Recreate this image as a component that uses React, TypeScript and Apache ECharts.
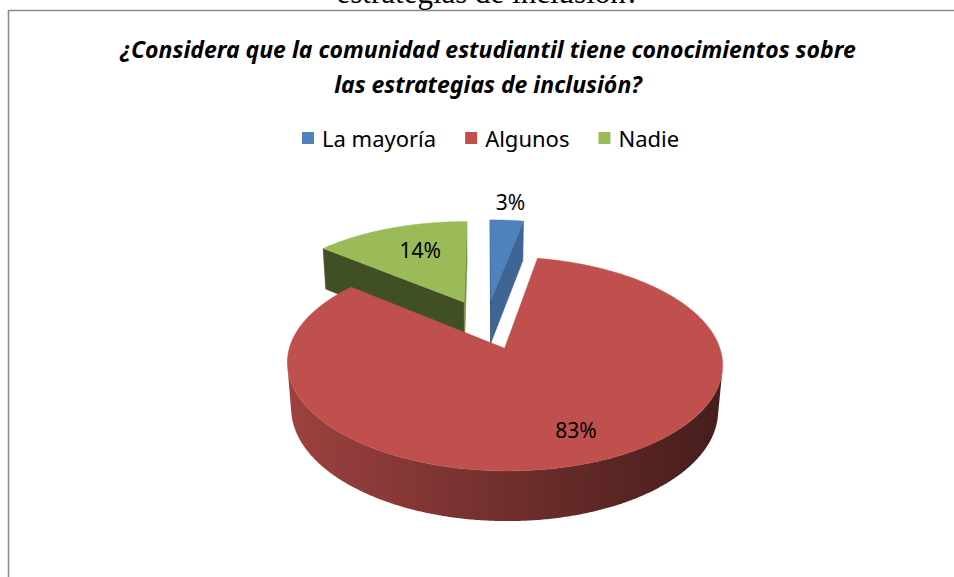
import React, { useEffect, useRef } from 'react';
import * as echarts from 'echarts';

// ---- data ----
const categories = ['La mayoría', 'Algunos', 'Nadie'];
const values = [3, 83, 14];
const colors = ['#4f81bd', '#c0504d', '#9bbb59'];
const titleLines = [
  '¿Considera que la comunidad estudiantil tiene conocimientos sobre',
  'las estrategias de inclusión?',
];
const captionText = 'estrategias de inclusión?';

// ---- 3D view (style) ----
const VIEW = { ox: 486, oy: 324, R: 208, explode: 53, sinT: 0.47, cosT: 0.8827, f: 1300, H: 51 };
const FONT = '"Noto Sans", "Open Sans", sans-serif';

function proj(X: number, Y: number, Z: number): number[] {
  const { ox, oy, sinT, cosT, f } = VIEW;
  const d = Z * cosT - Y * sinT;
  const s = f / (f + d);
  const yc = Y * cosT + Z * sinT;
  return [ox + X * s, oy - yc * s];
}

function shade(hex: string, k: number): string {
  const n = parseInt(hex.slice(1), 16);
  const r = Math.round(((n >> 16) & 255) * k);
  const g = Math.round(((n >> 8) & 255) * k);
  const b = Math.round((n & 255) * k);
  return `rgb(${r},${g},${b})`;
}

function area(p: number[][]): number {
  let a = 0;
  for (let i = 0; i < p.length; i++) {
    const q = p[(i + 1) % p.length];
    a += p[i][0] * q[1] - q[0] * p[i][1];
  }
  return a;
}

function sliceAngles() {
  const total = values.reduce((a, b) => a + b, 0);
  let acc = 0;
  return values.map((v) => {
    const a0 = (acc / total) * Math.PI * 2;
    acc += v;
    const a1 = (acc / total) * Math.PI * 2;
    return { a0, a1, am: (a0 + a1) / 2, share: v / total };
  });
}

export default function App() {
  const ref = useRef<HTMLDivElement>(null);

  useEffect(() => {
    if (!ref.current) return;
    const chart = echarts.init(ref.current, undefined, { renderer: 'svg' });
    const slices = sliceAngles();

    const renderItem = (params: any, api: any) => {
      const i = params.dataIndex;
      const v = api.value(0);
      const total = values.reduce((a, b) => a + b, 0);
      const sl = slices[i];
      const { R, explode, H, ox } = VIEW;
      const ex = explode * Math.sin(sl.am);
      const ez = explode * Math.cos(sl.am);
      const pt = (th: number, r: number, Y: number) =>
        proj(ex + r * Math.sin(th), Y, ez + r * Math.cos(th));
      const order = slices
        .map((s, j) => ({ j, z: Math.cos(s.am) }))
        .sort((a, b) => b.z - a.z)
        .findIndex((o) => o.j === i);
      const base = order * 100;
      const color = colors[i];
      const children: any[] = [];
      const n = Math.max(2, Math.ceil((sl.a1 - sl.a0) / (Math.PI / 360)));
      const arc: number[] = [];
      for (let k = 0; k <= n; k++) arc.push(sl.a0 + ((sl.a1 - sl.a0) * k) / n);

      const addQuad = (p: number[][], fill: string, z: number) => {
        if (area(p) < 0) {
          children.push({
            type: 'polygon',
            shape: { points: p },
            style: { fill, stroke: fill, lineWidth: 0.6 },
            z2: z,
          });
        }
      };
      // radial walls
      addQuad([pt(0, 0, 0), pt(sl.a0, R, 0), pt(sl.a0, R, -H), pt(0, 0, -H)], shade(color, 0.42), base + 1);
      addQuad([pt(sl.a1, R, 0), pt(0, 0, 0), pt(0, 0, -H), pt(sl.a1, R, -H)], shade(color, 0.78), base + 1);

      // outer wall: merge visible segments into runs, fill with horizontal gradient
      const vis: boolean[] = [];
      for (let k = 0; k < n; k++) {
        const t1 = arc[k];
        const t2 = arc[k + 1];
        vis.push(area([pt(t1, R, 0), pt(t2, R, 0), pt(t2, R, -H), pt(t1, R, -H)]) < 0);
      }
      const grad = new echarts.graphic.LinearGradient(
        ox - R * 1.04, 0, ox + R * 1.1, 0,
        [
          { offset: 0, color: shade(color, 0.84) },
          { offset: 0.5, color: shade(color, 0.6) },
          { offset: 1, color: shade(color, 0.37) },
        ],
        true
      );
      let k = 0;
      while (k < n) {
        if (!vis[k]) { k++; continue; }
        let m = k;
        while (m < n && vis[m]) m++;
        const top: number[][] = [];
        const bot: number[][] = [];
        for (let q = k; q <= m; q++) {
          top.push(pt(arc[q], R, 0));
          bot.push(pt(arc[q], R, -H));
        }
        children.push({
          type: 'polygon',
          shape: { points: [...top, ...bot.reverse()] },
          style: { fill: grad },
          z2: base + 2,
        });
        k = m;
      }
      // top face
      children.push({
        type: 'polygon',
        shape: { points: [pt(0, 0, 0), ...arc.map((t) => pt(t, R, 0))] },
        style: { fill: color, stroke: color, lineWidth: 0.5 },
        z2: base + 50,
      });
      // label
      const share = v / total;
      const outside = share < 0.05;
      const lp = pt(sl.am, outside ? R * 1.27 : R * 0.72, 0);
      children.push({
        type: 'text',
        style: {
          text: Math.round(share * 100) + '%',
          x: lp[0] + (outside ? 0 : 11),
          y: lp[1] + (outside ? 0 : 3),
          fill: '#000',
          font: `21px ${FONT}`,
          align: 'center',
          verticalAlign: 'middle',
          textAlign: 'center',
          textVerticalAlign: 'middle',
        },
        z2: 1000,
      });
      return { type: 'group', children };
    };

    chart.setOption({
      animation: false,
      backgroundColor: '#ffffff',
      legend: {
        data: categories,
        left: 302,
        top: 127,
        padding: 0,
        icon: 'rect',
        itemWidth: 12,
        itemHeight: 12,
        itemGap: 29,
        selectedMode: false,
        textStyle: { fontFamily: FONT, fontSize: 22, color: '#000', padding: [0, 0, 0, 3] },
      },
      graphic: [
        {
          type: 'rect',
          shape: { x: 8.5, y: 10.5, width: 1000, height: 1000 },
          style: { fill: '#fff', stroke: '#898989', lineWidth: 1.5 },
          z: -10,
          silent: true,
        },
        {
          type: 'text',
          x: 488,
          y: 8,
          style: {
            text: captionText,
            font: '31px "Liberation Serif", "Times New Roman", serif',
            fill: '#000',
            align: 'center',
            verticalAlign: 'bottom',
            textAlign: 'center',
            textVerticalAlign: 'bottom',
          },
          z: 5,
        },
        ...titleLines.map((t, k) => ({
          type: 'text',
          x: 488,
          y: k === 0 ? 48.5 : 84,
          style: {
            text: t,
            font: `italic bold 23px ${FONT}`,
            fill: '#000',
            align: 'center',
            verticalAlign: 'middle',
            textAlign: 'center',
            textVerticalAlign: 'middle',
          },
          z: 5,
        })),
      ],
      series: [
        {
          type: 'pie',
          radius: 0,
          center: [486, 324],
          silent: true,
          label: { show: false },
          labelLine: { show: false },
          data: categories.map((c, i) => ({ name: c, value: values[i], itemStyle: { color: colors[i] } })),
        },
        {
          type: 'custom',
          coordinateSystem: 'none',
          renderItem,
          silent: true,
          data: values.map((v, i) => ({ name: categories[i], value: v })),
        },
      ],
    });
    return () => chart.dispose();
  }, []);

  return (
    <div
      ref={ref}
      style={{ position: 'absolute', left: 0, top: 0, width: 954, height: 577 }}
    />
  );
}
